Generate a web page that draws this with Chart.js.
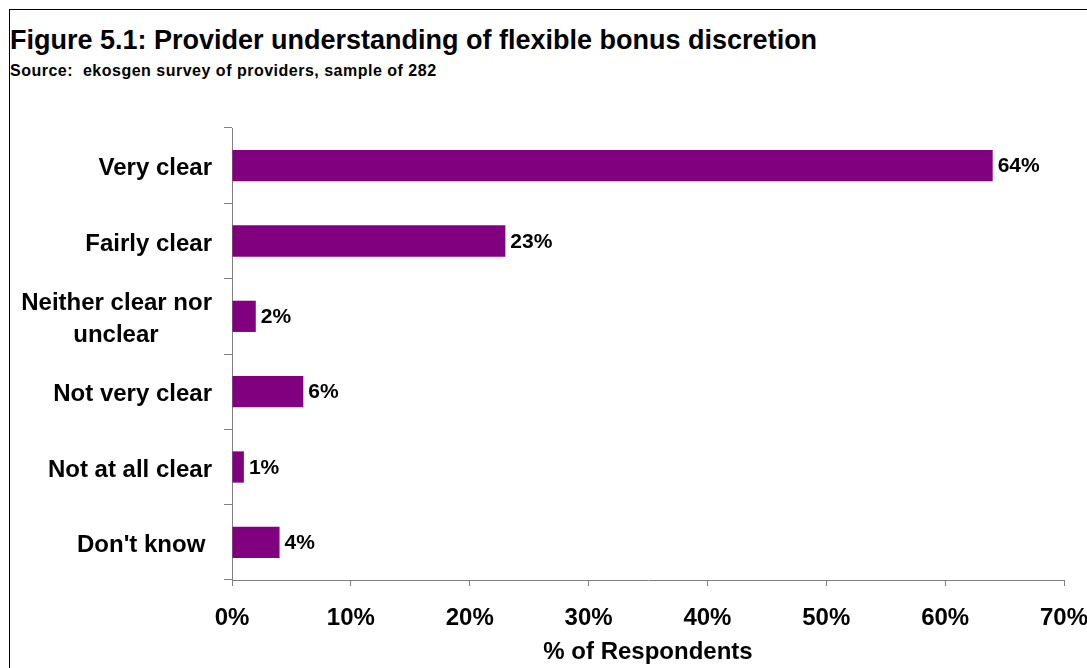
<!DOCTYPE html>
<html>
<head>
<meta charset="utf-8">
<script src="https://cdn.jsdelivr.net/npm/chart.js@4/dist/chart.umd.min.js"></script>
<style>
  html, body { margin: 0; padding: 0; background: #fff; }
  body { width: 1087px; height: 668px; position: relative; overflow: hidden; font-family: "Liberation Sans", Arial, sans-serif; }
  #frame { position: absolute; left: 9px; top: 9px; width: 1100px; height: 700px; border: 1px solid #000; box-sizing: border-box; }
  #title { position: absolute; left: 10px; top: 25px; font-size: 27px; font-weight: bold; color: #000; white-space: nowrap; }
  #subtitle { position: absolute; left: 10px; top: 62px; font-size: 16px; letter-spacing: 0.5px; font-weight: bold; color: #000; white-space: nowrap; }
  #wrap { position: absolute; left: 0; top: 0; width: 1087px; height: 668px; }
</style>
</head>
<body>
<div id="frame"></div>
<div id="title">Figure 5.1: Provider understanding of flexible bonus discretion</div>
<div id="subtitle">Source:&nbsp; ekosgen survey of providers, sample of 282</div>
<div id="wrap"><canvas id="chart"></canvas></div>
<script>
// 回答カテゴリ（上から順）。2行目の空白は中央寄せ風に見せるため
const categories = [
  'Very clear',
  'Fairly clear',
  ['Neither clear nor', 'unclear        '],
  'Not very clear',
  'Not at all clear',
  "Don't know ",
];

// 回答者の割合(%)
const respondentShares = [64, 23, 2, 6, 1, 4];

const xAxisTitle = '% of Respondents';
const barColor = '#800080';
const axisColor = '#808080';
const fontFamily = '"Liberation Sans", Arial, sans-serif';

// バーの右側に値ラベルを描く
const valueLabelPlugin = {
  id: 'valueLabels',
  afterDatasetsDraw(chart) {
    const ctx = chart.ctx;
    const meta = chart.getDatasetMeta(0);
    ctx.save();
    ctx.font = 'bold 21px ' + fontFamily;
    ctx.fillStyle = '#000';
    ctx.textAlign = 'left';
    ctx.textBaseline = 'middle';
    meta.data.forEach((bar, i) => {
      ctx.fillText(respondentShares[i] + '%', bar.x + 5, bar.y + 1);
    });
    ctx.restore();
  }
};

new Chart(document.getElementById('chart'), {
  type: 'bar',
  data: {
    labels: categories,
    datasets: [{
      data: respondentShares,
      backgroundColor: barColor,
      borderWidth: 0,
      barPercentage: 0.415,
      categoryPercentage: 1,
    }]
  },
  options: {
    indexAxis: 'y',
    responsive: true,
    maintainAspectRatio: false,
    animation: false,
    layout: {
      padding: { top: 128, right: 23, bottom: 0, left: 0 }
    },
    scales: {
      x: {
        min: 0,
        max: 70,
        ticks: {
          stepSize: 10,
          padding: 18,
          color: '#000',
          font: { family: fontFamily, size: 24, weight: 'bold' },
          callback: (v) => v + '%',
          maxRotation: 0,
        },
        grid: {
          drawOnChartArea: false,
          drawTicks: true,
          tickLength: 6,
          color: axisColor,
        },
        border: { display: true, color: axisColor, width: 1 },
        title: {
          display: true,
          text: xAxisTitle,
          color: '#000',
          font: { family: fontFamily, size: 24, weight: 'bold' },
          padding: { top: 0, bottom: 1 },
        },
        afterFit(scale) {
          scale.height = 88;
          // 端のラベルのはみ出し分の余白は付けない
          scale.paddingLeft = 0;
          scale.paddingRight = 0;
        },
      },
      y: {
        ticks: {
          padding: 12,
          labelOffset: 3,
          color: '#000',
          font: { family: fontFamily, size: 24, weight: 'bold', lineHeight: 1.3 },
        },
        grid: {
          offset: true,
          drawOnChartArea: false,
          drawTicks: true,
          tickLength: 8,
          color: axisColor,
        },
        border: { display: true, color: axisColor, width: 1 },
        afterFit(scale) { scale.width = 232; },
      }
    },
    plugins: {
      legend: { display: false },
      tooltip: { enabled: false },
    }
  },
  plugins: [valueLabelPlugin]
});
</script>
</body>
</html>
